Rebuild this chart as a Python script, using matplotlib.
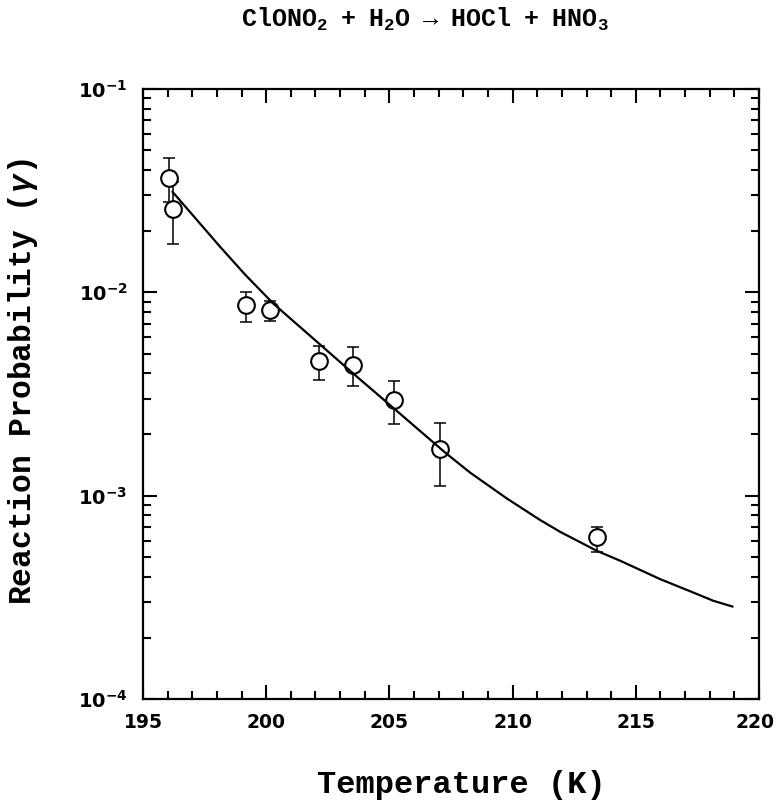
import numpy as np
import matplotlib
matplotlib.use("Agg")
from matplotlib import pyplot as plt
from matplotlib import transforms
from matplotlib.ticker import MultipleLocator, LogLocator, FixedLocator, NullFormatter

# mathtext: rm -> typewriter bold (title/labels), sf -> sans bold (tick labels)
plt.rcParams['mathtext.fontset'] = 'custom'
plt.rcParams['mathtext.rm'] = 'Liberation Mono:bold'
plt.rcParams['mathtext.it'] = 'Liberation Mono:italic:bold'
plt.rcParams['mathtext.bf'] = 'Liberation Mono:bold'
plt.rcParams['mathtext.sf'] = 'DejaVu Sans:bold'

# measured reaction probabilities
T = [196.06, 196.23, 199.17, 200.15, 202.16, 203.54, 205.19, 207.05, 213.41]
gamma = [0.0367, 0.0258, 0.00863, 0.00822, 0.00459, 0.00437, 0.00294, 0.00170, 0.000623]
gamma_hi = [0.0456, 0.0348, 0.0100, 0.00906, 0.00544, 0.00538, 0.00366, 0.00227, 0.000704]
gamma_lo = [0.0277, 0.0172, 0.00714, 0.00720, 0.00372, 0.00346, 0.00226, 0.00111, 0.000526]

# fitted curve
fit_T = [196.2, 198.12, 199.15, 200.29, 203.54, 205.16, 207.26, 208.27, 209.76, 211.11,
         211.92, 213.41, 214.36, 215.98, 217.33, 218.15, 218.92]
fit_gamma = [0.0312, 0.0168, 0.0122, 0.00880, 0.00398, 0.00270, 0.00163, 0.00130, 0.00097,
             0.000760, 0.000665, 0.000536, 0.000479, 0.000389, 0.000334, 0.000304, 0.000285]

T = np.array(T)
gamma = np.array(gamma)
yerr = np.array([gamma - np.array(gamma_lo), np.array(gamma_hi) - gamma])

fig = plt.figure(figsize=(7.77, 8.0), dpi=100)
ax = fig.add_axes([143/777, 1-699/800, 616/777, 610/800])

ax.errorbar(T, gamma, yerr=yerr, fmt='none', ecolor='black', elinewidth=1.1,
            capsize=4.5, capthick=1.1, zorder=2)
ax.plot(T, gamma, 'o', ms=12, mfc='white', mec='black', mew=1.5, zorder=3)
ax.plot(fit_T, fit_gamma, '-', color='black', lw=1.6, zorder=4)

ax.set_yscale('log')
ax.set_xlim(195, 220)
ax.set_ylim(1e-4, 1e-1)

ax.xaxis.set_major_locator(MultipleLocator(5))
ax.xaxis.set_minor_locator(MultipleLocator(1))
ax.yaxis.set_major_locator(FixedLocator([1e-4, 1e-3, 1e-2, 1e-1]))
ax.yaxis.set_minor_locator(LogLocator(base=10, subs=np.arange(2, 10)))
ax.yaxis.set_minor_formatter(NullFormatter())

ax.set_xticks([195, 200, 205, 210, 215, 220])
ax.set_xticklabels(['195', '200', '205', '210', '215', '220'],
                   fontfamily='DejaVu Sans', fontweight='bold', fontsize=13.5)
ax.set_yticks([1e-4, 1e-3, 1e-2, 1e-1])
ax.set_yticklabels([r'$\mathsf{10^{-4}}$', r'$\mathsf{10^{-3}}$',
                    r'$\mathsf{10^{-2}}$', r'$\mathsf{10^{-1}}$'], fontsize=14)

ax.tick_params(which='both', direction='in', top=True, right=True, width=1.5, color='black')
ax.tick_params(which='major', length=10)
ax.tick_params(which='minor', length=5.5)
ax.tick_params(axis='x', which='major', pad=10)
ax.tick_params(axis='y', which='major', pad=11)
for s in ax.spines.values():
    s.set_linewidth(1.6)

# nudge the last x label so it stays inside the figure
last = ax.get_xticklabels()[-1]
last.set_transform(last.get_transform() + transforms.ScaledTranslation(-4/100, 0, fig.dpi_scale_trans))

fig.text(425/777, 1-19/800,
         r'$\mathrm{ClONO_2\ \ +\ \ H_2O\ \ \rightarrow\ \ HOCl\ \ +\ \ HNO_3}$',
         ha='center', va='center', fontsize=18)
fig.text(461/777, 1-785/800, 'Temperature (K)', ha='center', va='center',
         fontfamily='Liberation Mono', fontweight='bold', fontsize=23)
fig.text(23/777, 1-382/800, r'Reaction Probability ($\gamma$)', ha='center', va='center',
         rotation=90, fontfamily='Liberation Mono', fontweight='bold', fontsize=22.5)

fig.savefig('out.png', dpi=100)
